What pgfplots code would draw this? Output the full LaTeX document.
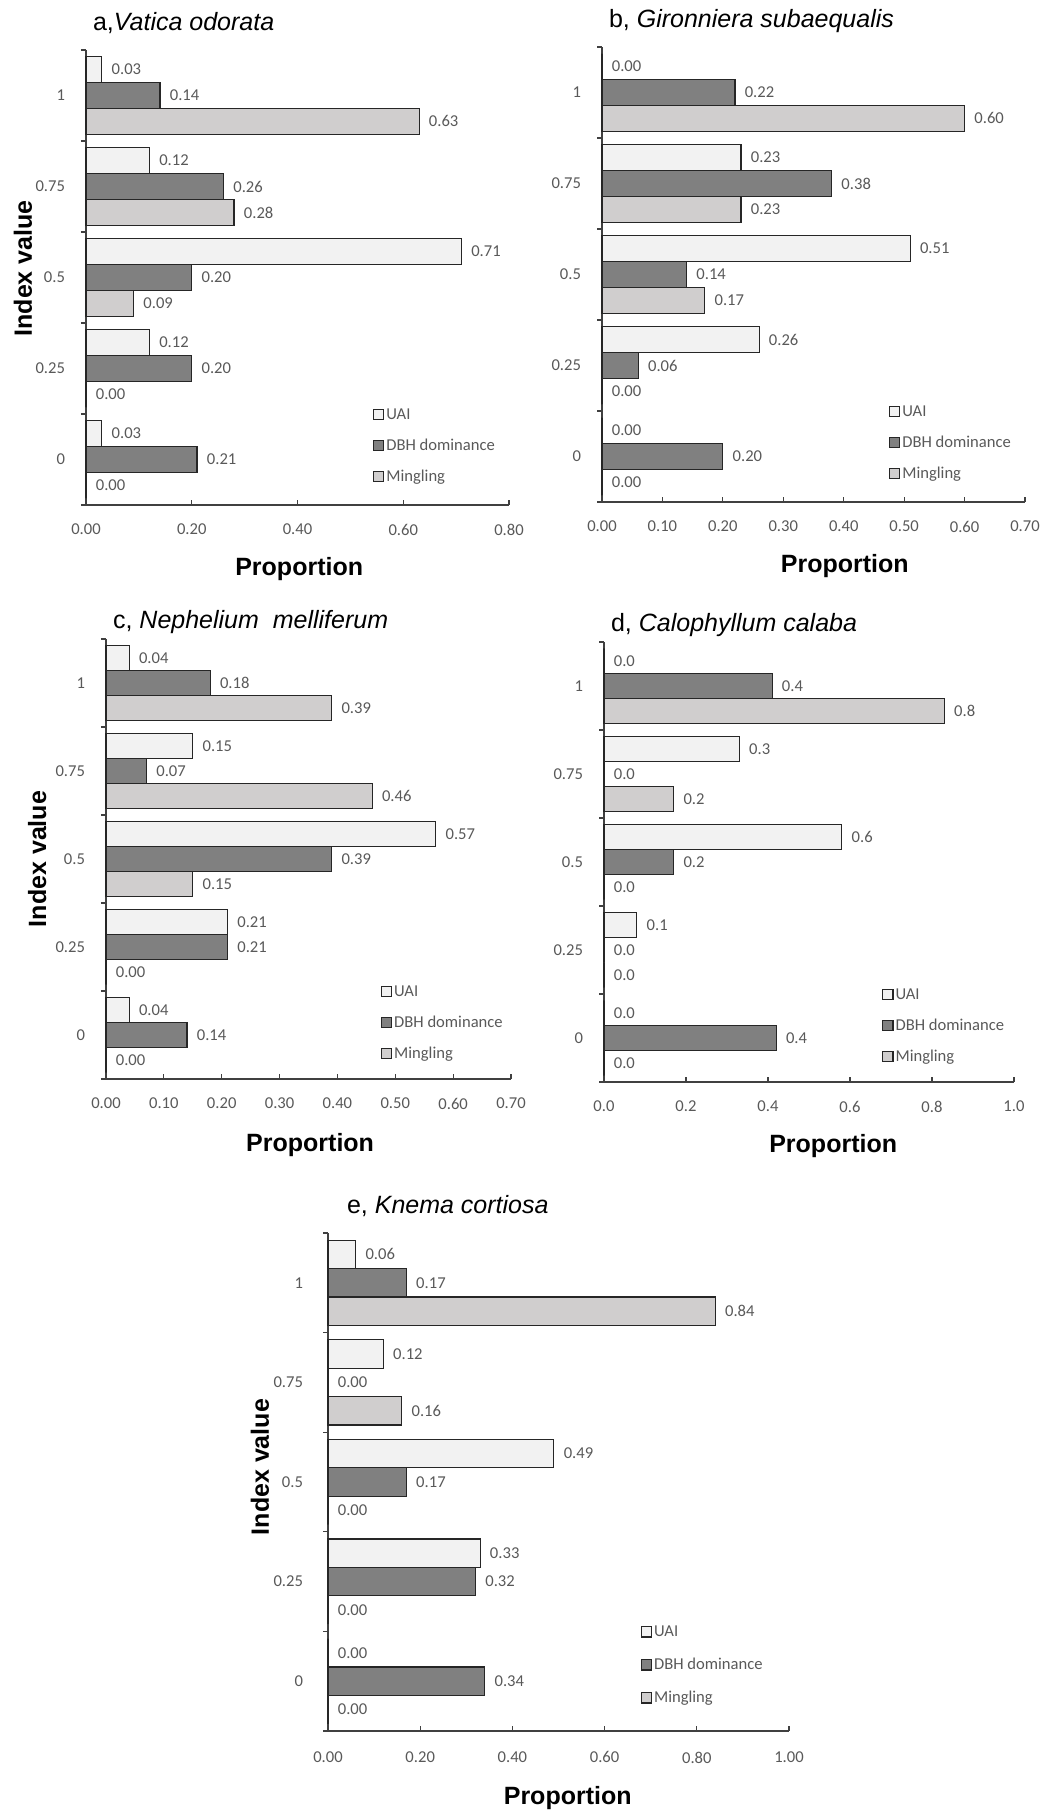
\documentclass[border=0pt]{standalone}
\usepackage{fontspec}
\setmainfont{Carlito}
\newfontfamily\arial{Liberation Sans}
\usepackage{pgfplots}
\pgfplotsset{compat=1.18}

\definecolor{txtgray}{HTML}{595959}
\definecolor{axgray}{HTML}{404040}
\definecolor{bardk}{HTML}{262626}
\definecolor{uai}{HTML}{F2F2F2}
\definecolor{dbh}{HTML}{808080}
\definecolor{ming}{HTML}{D0CECE}

\newcommand{\lblfont}{\fontsize{8.3}{10}\selectfont}
\newcommand{\bigfont}{\arial\fontsize{12.5}{15}\selectfont}

\pgfplotsset{
  panel/.style={
    scale only axis,
    xbar, bar width=0.285,
    xmin=0, ymin=-0.5, ymax=4.5,
    axis x line*=bottom, axis y line*=left,
    axis line style={-, draw=axgray, line width=0.6pt},
    ytick={0,1,2,3,4},
    yticklabels={0,0.25,0.5,0.75,1},
    minor ytick={-0.5,0.5,1.5,2.5,3.5,4.5},
    major y tick style={draw=none},
    minor y tick style={draw=axgray, line width=0.6pt},
    x tick style={draw=axgray, line width=0.6pt},
    ytick align=outside, xtick align=inside,
    major tick length=2.5pt, minor tick length=2.5pt,
    tick label style={font=\lblfont, text=txtgray},
    yticklabel style={xshift=-4.5pt},
    xticklabel style={yshift=-6pt},
    point meta=x,
    nodes near coords={\pgfmathprintnumber[fixed,fixed zerofill,precision=2,assume math mode=true]{\pgfplotspointmeta}},
    nodes near coords style={font=\lblfont, text=txtgray, anchor=west, xshift=1.3pt},
    legend image code/.code={\draw[#1, line width=0.6pt] (0pt,-2.6pt) rectangle (5.2pt,2.6pt);},
    legend style={draw=none, fill=none, font=\lblfont, text=txtgray, inner sep=0pt,
      at={(rel axis cs:0.677,0.2)}, anchor=north west, yshift=4.5pt, row sep=6.5pt,
      nodes={text height=6pt, text depth=1pt, inner sep=1pt}},
    legend cell align=left,
    title style={font=\bigfont, at={(axis description cs:0,1)}, anchor=base west, yshift=4pt},
    xlabel={Proportion},
    xlabel style={font=\bigfont\bfseries, anchor=center, yshift=-32pt},
    ylabel style={font=\bigfont\bfseries, anchor=center},
    clip=false,
  },
  uaibar/.style={fill=uai, draw=bardk, line width=0.6pt, bar shift=0.285},
  dbhbar/.style={fill=dbh, draw=bardk, line width=0.6pt, bar shift=0},
  mingbar/.style={fill=ming, draw=bardk, line width=0.6pt, bar shift=-0.285},
}

\begin{document}
\begin{tikzpicture}
\useasboundingbox (0pt,0pt) rectangle (521pt,906pt);

% a, Vatica odorata
\begin{axis}[panel, at={(43pt,653.5pt)}, anchor=south west,
  width=211.5pt, height=227.5pt, xmax=0.8,
  xtick={0,0.2,0.4,0.6,0.8}, xticklabels={0.00,0.20,0.40,0.60,0.80},
  title={a,\textit{Vatica odorata}},
  ylabel={Index value},
  ylabel style={at={(axis description cs:-0.149,0.52)}},
  xlabel style={at={(axis description cs:0.504,0)}}]
\addplot[uaibar] coordinates {(0.03,0) (0.12,1) (0.71,2) (0.12,3) (0.03,4)};
\addplot[dbhbar] coordinates {(0.21,0) (0.20,1) (0.20,2) (0.26,3) (0.14,4)};
\addplot[mingbar] coordinates {(0.00,0) (0.00,1) (0.09,2) (0.28,3) (0.63,4)};
\legend{UAI, DBH dominance, Mingling}
\end{axis}

% b, Gironniera subaequalis
\begin{axis}[panel, at={(301pt,655pt)}, anchor=south west,
  width=211.5pt, height=227.5pt, xmax=0.7,
  xtick={0,0.1,0.2,0.3,0.4,0.5,0.6,0.7},
  xticklabels={0.00,0.10,0.20,0.30,0.40,0.50,0.60,0.70},
  title={b, \textit{Gironniera subaequalis}},
  xlabel style={at={(axis description cs:0.574,0)}}]
\addplot[uaibar] coordinates {(0.00,0) (0.26,1) (0.51,2) (0.23,3) (0.00,4)};
\addplot[dbhbar] coordinates {(0.20,0) (0.06,1) (0.14,2) (0.38,3) (0.22,4)};
\addplot[mingbar] coordinates {(0.00,0) (0.00,1) (0.17,2) (0.23,3) (0.60,4)};
\legend{UAI, DBH dominance, Mingling}
\end{axis}

% c, Nephelium melliferum
\begin{axis}[panel, at={(53pt,366.5pt)}, anchor=south west,
  width=202.5pt, height=220pt, xmax=0.7,
  xtick={0,0.1,0.2,0.3,0.4,0.5,0.6,0.7},
  xticklabels={0.00,0.10,0.20,0.30,0.40,0.50,0.60,0.70},
  title={c, \textit{Nephelium\ \ melliferum}},
  title style={yshift=-4.5pt},
  ylabel={Index value},
  ylabel style={at={(axis description cs:-0.17,0.5)}},
  xlabel style={at={(axis description cs:0.504,0)}, yshift=-1pt}]
\addplot[uaibar] coordinates {(0.04,0) (0.21,1) (0.57,2) (0.15,3) (0.04,4)};
\addplot[dbhbar] coordinates {(0.14,0) (0.21,1) (0.39,2) (0.07,3) (0.18,4)};
\addplot[mingbar] coordinates {(0.00,0) (0.00,1) (0.15,2) (0.46,3) (0.39,4)};
\legend{UAI, DBH dominance, Mingling}
\end{axis}

% d, Calophyllum calaba
\begin{axis}[panel, at={(302pt,365pt)}, anchor=south west,
  width=205pt, height=220pt, xmax=1.0,
  xtick={0,0.2,0.4,0.6,0.8,1.0},
  xticklabels={0.0,0.2,0.4,0.6,0.8,1.0},
  nodes near coords={\pgfmathprintnumber[fixed,fixed zerofill,precision=1,assume math mode=true]{\pgfplotspointmeta}},
  title={d, \textit{Calophyllum calaba}},
  title style={yshift=-4.5pt},
  xlabel style={at={(axis description cs:0.559,0)}}]
\addplot[uaibar] coordinates {(0.00,0) (0.08,1) (0.58,2) (0.33,3) (0.00,4)};
\addplot[dbhbar] coordinates {(0.42,0) (0.00,1) (0.17,2) (0.00,3) (0.41,4)};
\addplot[mingbar] coordinates {(0.00,0) (0.00,1) (0.00,2) (0.17,3) (0.83,4)};
\legend{UAI, DBH dominance, Mingling}
\end{axis}

% e, Knema cortiosa
\begin{axis}[panel, at={(164pt,40.5pt)}, anchor=south west,
  width=230.5pt, height=249pt, xmax=1.0,
  xtick={0,0.2,0.4,0.6,0.8,1.0},
  xticklabels={0.00,0.20,0.40,0.60,0.80,1.00},
  xticklabel style={yshift=-0.8pt},
  yticklabel style={xshift=-2pt},
  title={e, \textit{Knema cortiosa}},
  title style={xshift=6pt},
  legend style={row sep=7.5pt},
  ylabel={Index value},
  ylabel style={at={(axis description cs:-0.1475,0.53)}},
  xlabel style={at={(axis description cs:0.52,0)}, yshift=-1.5pt}]
\addplot[uaibar] coordinates {(0.00,0) (0.33,1) (0.49,2) (0.12,3) (0.06,4)};
\addplot[dbhbar] coordinates {(0.34,0) (0.32,1) (0.17,2) (0.00,3) (0.17,4)};
\addplot[mingbar] coordinates {(0.00,0) (0.00,1) (0.00,2) (0.16,3) (0.84,4)};
\legend{UAI, DBH dominance, Mingling}
\end{axis}
\end{tikzpicture}
\end{document}
